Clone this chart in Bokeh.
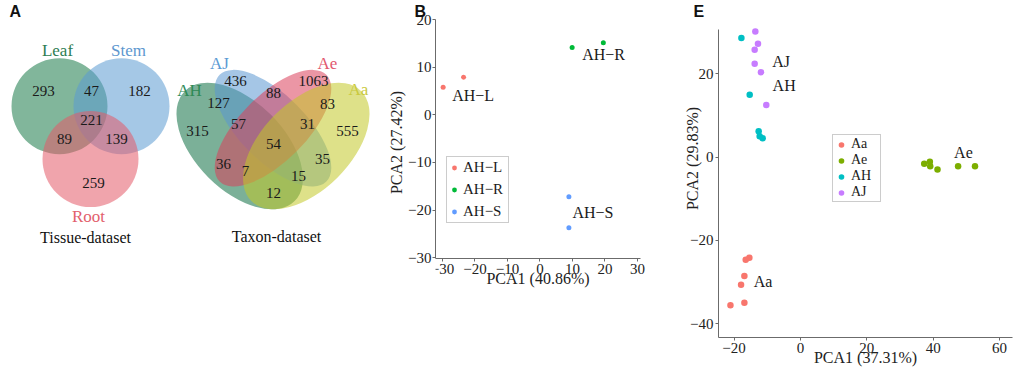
import math
from bokeh.plotting import figure
from bokeh.layouts import row
from bokeh.models import Range1d, Legend, LegendItem, FixedTicker, CustomJSTickFormatter
from bokeh.embed import file_html
from bokeh.resources import INLINE
from bokeh.core.properties import value

SERIF = "Liberation Serif"
SANS = "Liberation Sans"

# ---------------- data ----------------
tissue_sets = ["Leaf", "Stem", "Root"]
tissue_regions = ["Leaf", "Leaf&Stem", "Stem", "Leaf&Stem&Root", "Leaf&Root", "Stem&Root", "Root"]
tissue_counts = [293, 47, 182, 221, 89, 139, 259]

taxon_sets = ["AH", "AJ", "Ae", "Aa"]
taxon_regions = ["AJ", "Ae", "AH&AJ", "AJ&Ae", "Ae&Aa", "AH", "AH&AJ&Ae", "AJ&Ae&Aa",
                 "Aa", "All", "AH&Ae", "AJ&Aa", "AH&Ae&Aa", "AH&AJ&Aa", "AH&Aa"]
taxon_counts = [436, 1063, 127, 88, 83, 315, 57, 31, 555, 54, 36, 35, 7, 15, 12]

b_groups = ["AH−L", "AH−R", "AH−S"]
b_group = ["AH−L", "AH−L", "AH−R", "AH−R", "AH−S", "AH−S"]
b_pc1 = [-29.8, -23.5, 9.9, 19.5, 8.9, 8.9]
b_pc2 = [5.8, 7.9, 14.1, 15.1, -17.2, -23.7]
b_ticks_x = [-30, -20, -10, 0, 10, 20, 30]
b_ticks_y = [-30, -20, -10, 0, 10, 20]

e_groups = ["Aa", "Ae", "AH", "AJ"]
e_group = ["AJ"] * 6 + ["AH"] * 5 + ["Ae"] * 6 + ["Aa"] * 6
e_pc1 = [-13.6, -12.8, -13.8, -13.8, -11.9, -10.3,
         -17.8, -15.3, -12.6, -12.3, -11.4,
         37.3, 39.0, 39.1, 41.3, 47.5, 52.6,
         -15.4, -16.5, -16.9, -17.9, -16.9, -21.1]
e_pc2 = [30.2, 27.2, 25.8, 22.4, 20.4, 12.5,
         28.6, 15.0, 6.2, 5.0, 4.5,
         -1.6, -1.1, -2.2, -3.0, -2.2, -2.2,
         -24.2, -24.7, -28.6, -30.7, -35.0, -35.6]
e_ticks_x = [-20, 0, 20, 40, 60]
e_ticks_y = [-40, -20, 0, 20]

# ---------------- styles / layout ----------------
GG3 = {"AH−L": "#F8766D", "AH−R": "#00BA38", "AH−S": "#619CFF"}
GG4 = {"Aa": "#F8766D", "Ae": "#7CAE00", "AH": "#00BFC4", "AJ": "#C77CFF"}

H = 370
TOP = 18      # common frame top (page px)
BOT = 337     # common frame bottom (page px)
EM = "\u2003"
EN = "\u2002"


def Y(ry):
    return 378 - ry


def set_title(p, letter, offset):
    p.title.text = letter
    p.title.text_font = SANS
    p.title.text_font_style = "bold"
    p.title.text_font_size = "16px"
    p.title.text_color = "#111111"
    p.title.align = "left"
    p.title.offset = offset
    p.title.standoff = 0
    p.title.vertical_align = "bottom"


# ---------------- Panel A (Venn diagrams) ----------------
WA = 385
pa = figure(width=WA, height=H, x_range=Range1d(0, WA), y_range=Range1d(Y(BOT), Y(TOP)),
            x_axis_type=None, y_axis_type=None, toolbar_location=None, output_backend="svg",
            min_border_left=0, min_border_right=0, min_border_top=TOP, min_border_bottom=H - BOT)
pa.grid.visible = False
pa.outline_line_color = None
set_title(pa, "A", 9)

t_geo = {"Leaf": (59, 105), "Stem": (121, 105), "Root": (90, 158)}
t_fill = {"Leaf": "#1a7a48", "Stem": "#5b9bd2", "Root": "#e45a68"}
t_txt = {"Leaf": "#2e7d52", "Stem": "#5d97cf", "Root": "#e2606c"}
t_lab = {"Leaf": (57, 49), "Stem": (128, 49), "Root": (88, 216)}
pa.circle(x=[t_geo[s][0] for s in tissue_sets], y=[Y(t_geo[s][1]) for s in tissue_sets],
          radius=48, fill_color=[t_fill[s] for s in tissue_sets], fill_alpha=0.55, line_color=None)
pa.text(x=[t_lab[s][0] for s in tissue_sets], y=[Y(t_lab[s][1]) for s in tissue_sets], text=tissue_sets,
        text_color=[t_txt[s] for s in tissue_sets], text_font=value(SERIF), text_font_size="17px",
        text_align="center", text_baseline="middle")
t_pos = {"Leaf": (43, 90), "Leaf&Stem": (91, 90), "Stem": (139, 90), "Leaf&Stem&Root": (91, 119),
         "Leaf&Root": (64, 138), "Stem&Root": (116, 138), "Root": (93, 182)}
pa.text(x=[t_pos[r][0] for r in tissue_regions], y=[Y(t_pos[r][1]) for r in tissue_regions],
        text=[str(c) for c in tissue_counts], text_color="#1a1a1a", text_font=value(SERIF),
        text_font_size="15px", text_align="center", text_baseline="middle")

CX = 272.5
S = 222.0
e_geo = {
    "AH": (CX - 0.15 * S, 145.0, 0.70 * S, 0.40 * S, -math.pi / 4),
    "AJ": (CX, 127.0, 0.68 * S, 0.30 * S, -math.pi / 4),
    "Ae": (CX, 127.0, 0.68 * S, 0.30 * S, math.pi / 4),
    "Aa": (CX + 0.15 * S, 145.0, 0.70 * S, 0.40 * S, math.pi / 4),
}
x_fill = {"AH": "#0f7043", "AJ": "#5b97d2", "Ae": "#db405b", "Aa": "#c3c828"}
x_txt = {"AH": "#2e8a56", "AJ": "#5b9ad4", "Ae": "#e2586e", "Aa": "#c9c93e"}
x_lab = {"AH": (189, 89), "AJ": (219, 62), "Ae": (327, 62), "Aa": (358, 88)}
for s in taxon_sets:
    cx, cy, w, hh, ang = e_geo[s]
    pa.ellipse(x=[cx], y=[Y(cy)], width=[w], height=[hh], angle=[ang],
               fill_color=x_fill[s], fill_alpha=0.55, line_color=None)
pa.text(x=[x_lab[s][0] for s in taxon_sets], y=[Y(x_lab[s][1]) for s in taxon_sets], text=taxon_sets,
        text_color=[x_txt[s] for s in taxon_sets], text_font=value(SERIF), text_font_size="17px",
        text_align="center", text_baseline="middle")
x_pos = {"AJ": (235, 80), "Ae": (313, 80), "AH&AJ": (218, 102), "AJ&Ae": (273, 92), "Ae&Aa": (327, 103),
         "AH": (197, 130), "AH&AJ&Ae": (238, 123), "AJ&Ae&Aa": (307, 123), "Aa": (347, 130),
         "All": (273, 143), "AH&Ae": (223, 163), "AJ&Aa": (322, 158), "AH&Ae&Aa": (245, 170),
         "AH&AJ&Aa": (298, 175), "AH&Aa": (273, 192)}
pa.text(x=[x_pos[r][0] for r in taxon_regions], y=[Y(x_pos[r][1]) for r in taxon_regions],
        text=[str(c) for c in taxon_counts], text_color="#1a1a1a", text_font=value(SERIF),
        text_font_size="15px", text_align="center", text_baseline="middle")

pa.text(x=[85, 276], y=[Y(237), Y(236)], text=["Tissue-dataset", "Taxon-dataset"], text_color="#111111",
        text_font=value(SERIF), text_font_size="16px", text_align="center", text_baseline="middle")

minus_fmt = CustomJSTickFormatter(code="return (tick < 0 ? '\u2212' : '') + Math.abs(tick).toFixed(0);")


def style_axes(p, xt, yt, xlabel, ylabel):
    p.grid.visible = False
    p.outline_line_color = None
    p.background_fill_color = "white"
    p.xaxis.ticker = FixedTicker(ticks=xt)
    p.yaxis.ticker = FixedTicker(ticks=yt)
    for ax in (p.xaxis[0], p.yaxis[0]):
        ax.formatter = minus_fmt
        ax.axis_line_color = "#6b6b6b"
        ax.major_tick_line_color = "#6b6b6b"
        ax.major_tick_out = 3
        ax.major_tick_in = 0
        ax.minor_tick_line_color = None
        ax.major_label_text_font = SERIF
        ax.major_label_text_font_size = "15px"
        ax.major_label_text_color = "#222222"
        ax.major_label_standoff = 2
        ax.axis_label_text_font = SERIF
        ax.axis_label_text_font_size = "16px"
        ax.axis_label_text_font_style = "normal"
        ax.axis_label_text_color = "#222222"
    p.xaxis.axis_label = xlabel
    p.yaxis.axis_label = ylabel


# ---------------- Panel B ----------------
WB = 662 - WA
B_LEFT = 435 - WA
B_X0 = -32.15
B_XPX = 3.25
B_Y_TOP = 20.0
B_PX = 4.78
b_y_bottom = B_Y_TOP - (BOT - TOP) / B_PX
pb = figure(width=WB, height=H, x_range=Range1d(B_X0, 33.4), y_range=Range1d(b_y_bottom, B_Y_TOP),
            toolbar_location=None, output_backend="svg",
            min_border_left=B_LEFT, min_border_right=14, min_border_top=TOP, min_border_bottom=H - BOT)
style_axes(pb, b_ticks_x, b_ticks_y, "PCA1 (40.86%)", EM * 4 + EN + "PCA2 (27.42%)")
set_title(pb, "B", -21)
pb.xaxis.fixed_location = -30.2
pb.xaxis.bounds = (B_X0, 30.9)
pb.yaxis.bounds = (-30.2, B_Y_TOP)
pb.xaxis.axis_label_standoff = -7
pb.yaxis.axis_label_standoff = 0
pb.yaxis.major_label_standoff = 1
items_b = []
for g in b_groups:
    xs = [x for x, gg in zip(b_pc1, b_group) if gg == g]
    ys = [y for y, gg in zip(b_pc2, b_group) if gg == g]
    r = pb.scatter(xs, ys, size=5, fill_color=GG3[g], line_color=None)
    items_b.append(LegendItem(label=g, renderers=[r]))
pb.text(x=[-27.0, 13.0, 10.0], y=[4.1, 12.7, -20.4], text=b_groups, text_font=value(SERIF),
        text_font_size="16px", text_color="#1a1a1a", text_align="left", text_baseline="middle")
leg_b = Legend(items=items_b, location=(11, BOT - 223), border_line_color="#9a9a9a", border_line_width=1,
               background_fill_color="white", background_fill_alpha=1, padding=1, margin=0, spacing=3,
               label_height=19, glyph_height=19, glyph_width=12, label_standoff=3, label_width=44,
               label_text_font=SERIF, label_text_font_size="15px", label_text_color="#1a1a1a")
pb.add_layout(leg_b, "center")

# ---------------- Panel E ----------------
E_PX = 4.175
E_Y0 = 156.0
e_y_top = (E_Y0 - TOP) / E_PX
e_y_bottom = (E_Y0 - BOT) / E_PX
pe = figure(width=354, height=H, x_range=Range1d(-24.7, 63.9), y_range=Range1d(e_y_bottom, e_y_top),
            toolbar_location=None, output_backend="svg",
            min_border_left=56, min_border_right=4, min_border_top=TOP, min_border_bottom=H - BOT)
style_axes(pe, e_ticks_x, e_ticks_y, "PCA1 (37.31%)", EM * 2 + EN + "PCA2 (29.83%)")
set_title(pe, "E", -25)
pe.yaxis.bounds = (e_y_bottom, 30.66)
pe.xaxis.axis_label_standoff = -7
pe.yaxis.axis_label_standoff = -14
items_e = []
for g in e_groups:
    xs = [x for x, gg in zip(e_pc1, e_group) if gg == g]
    ys = [y for y, gg in zip(e_pc2, e_group) if gg == g]
    r = pe.scatter(xs, ys, size=6.5, fill_color=GG4[g], line_color=None)
    items_e.append(LegendItem(label=g, renderers=[r]))
pe.text(x=[-8.5, -8.4, 46.3, -14.1], y=[23.0, 17.2, 1.0, -29.9], text=["AJ", "AH", "Ae", "Aa"],
        text_font=value(SERIF), text_font_size="16px", text_color="#1a1a1a", text_align="left",
        text_baseline="middle")
leg_e = Legend(items=items_e, location=(114, BOT - 202), border_line_color="#9a9a9a", border_line_width=1,
               background_fill_color="white", background_fill_alpha=1, padding=1, margin=0, spacing=0,
               label_height=15, glyph_height=15, glyph_width=14, label_standoff=3, label_width=28,
               label_text_font=SERIF, label_text_font_size="14px", label_text_color="#1a1a1a")
pe.add_layout(leg_e, "center")

layout = row(pa, pb, pe)
open("out.html", "w").write(file_html(layout, INLINE))
